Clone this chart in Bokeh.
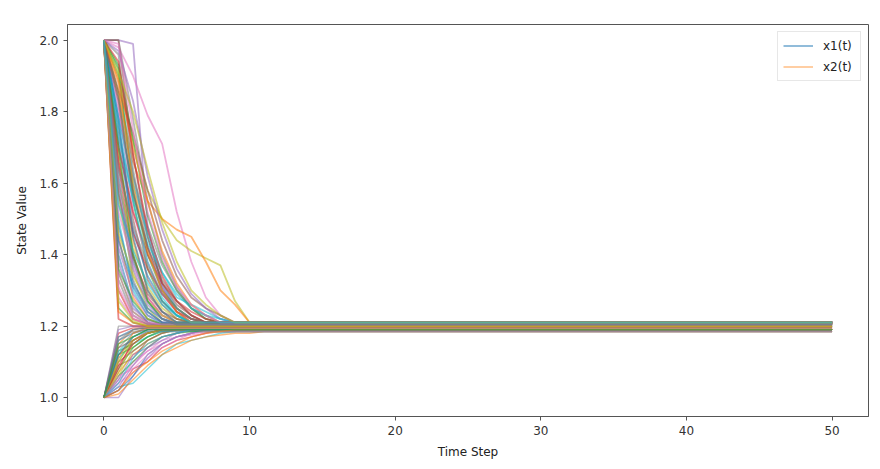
from bokeh.plotting import figure
from bokeh.models import Range1d, FixedTicker, PrintfTickFormatter
from bokeh.embed import file_html
from bokeh.resources import INLINE

# ---- data ----
# state trajectories, value at t = 0, 1, 2, ...; after the last listed step
# the value stays flat until T_END
T_END = 50
x_ticks = [0, 10, 20, 30, 40, 50]
y_ticks = [1.0, 1.2, 1.4, 1.6, 1.8, 2.0]

x1_runs = [
    [2.0, 1.62, 1.38, 1.27, 1.22, 1.21, 1.205],
    [2.0, 1.45, 1.28, 1.22, 1.205],
    [2.0, 1.85, 1.55, 1.36, 1.27, 1.23, 1.21, 1.205],
    [2.0, 1.30, 1.22, 1.205],
    [2.0, 2.0, 1.99, 1.48, 1.31, 1.24, 1.21],
    [2.0, 1.75, 1.50, 1.33, 1.26, 1.22, 1.21],
    [2.0, 1.98, 1.90, 1.79, 1.71, 1.52, 1.38, 1.28, 1.23, 1.21],
    [2.0, 2.0, 1.78, 1.55, 1.40, 1.31, 1.25, 1.22, 1.21],
    [2.0, 1.55, 1.35, 1.25, 1.21, 1.205],
    [2.0, 1.90, 1.62, 1.45, 1.32, 1.25, 1.22, 1.21],
    [2.0, 1.40, 1.26, 1.21, 1.20],
    [2.0, 1.68, 1.44, 1.30, 1.24, 1.21, 1.205],
    [2.0, 1.25, 1.21, 1.20],
    [2.0, 1.22, 1.20],
    [2.0, 1.80, 1.58, 1.42, 1.31, 1.25, 1.22, 1.21],
    [2.0, 1.35, 1.24, 1.21, 1.20],
    [2.0, 1.28, 1.22, 1.205],
    [2.0, 1.58, 1.33, 1.24, 1.21, 1.205],
    [2.0, 1.90, 1.72, 1.58, 1.50, 1.44, 1.41, 1.39, 1.37, 1.27, 1.21, 1.205],
    [2.0, 1.50, 1.30, 1.23, 1.205],
    [2.0, 1.72, 1.47, 1.34, 1.27, 1.23, 1.21],
    [2.0, 1.85, 1.66, 1.55, 1.50, 1.47, 1.45, 1.38, 1.30, 1.26, 1.21, 1.205],
    [2.0, 1.93, 1.72, 1.51, 1.38, 1.30, 1.25, 1.22, 1.21],
    [2.0, 1.65, 1.40, 1.28, 1.23, 1.21],
    [2.0, 1.42, 1.29, 1.23, 1.21],
    [2.0, 2.0, 1.68, 1.45, 1.32, 1.26, 1.23, 1.21],
    [2.0, 1.82, 1.52, 1.38, 1.29, 1.24, 1.22, 1.21],
    [2.0, 1.33, 1.23, 1.205],
    [2.0, 1.60, 1.42, 1.31, 1.25, 1.22, 1.21],
    [2.0, 1.78, 1.60, 1.46, 1.35, 1.28, 1.26, 1.24, 1.22, 1.21],
    [2.0, 1.48, 1.32, 1.25, 1.22, 1.205],
    [2.0, 1.24, 1.21, 1.20],
    [2.0, 1.92, 1.58, 1.40, 1.30, 1.25, 1.22, 1.21],
    [2.0, 1.70, 1.52, 1.40, 1.32, 1.27, 1.24, 1.22, 1.21],
    [2.0, 1.38, 1.25, 1.215, 1.205],
    [2.0, 1.86, 1.74, 1.58, 1.44, 1.34, 1.28, 1.25, 1.23, 1.21],
    [2.0, 1.52, 1.37, 1.28, 1.23, 1.21, 1.205],
    [2.0, 1.96, 1.64, 1.42, 1.30, 1.24, 1.21],
    [2.0, 1.27, 1.215, 1.20],
    [2.0, 1.76, 1.55, 1.38, 1.28, 1.23, 1.21],
    [2.0, 1.44, 1.31, 1.24, 1.21],
    [2.0, 1.89, 1.70, 1.55, 1.41, 1.32, 1.26, 1.23, 1.21],
    [2.0, 1.36, 1.27, 1.22, 1.205],
    [2.0, 1.66, 1.46, 1.36, 1.29, 1.24, 1.22, 1.21],
    [2.0, 1.97, 1.83, 1.62, 1.47, 1.36, 1.29, 1.25, 1.22, 1.21],
    [2.0, 1.57, 1.39, 1.29, 1.24, 1.22, 1.21],
    [2.0, 1.31, 1.23, 1.21, 1.205],
    [2.0, 1.84, 1.62, 1.48, 1.37, 1.30, 1.25, 1.23, 1.21],
    [2.0, 1.46, 1.34, 1.27, 1.23, 1.21],
    [2.0, 1.73, 1.56, 1.43, 1.35, 1.29, 1.25, 1.23, 1.22, 1.21],
    [2.0, 1.78, 1.45, 1.30, 1.24, 1.21],
    [2.0, 1.88, 1.60, 1.41, 1.30, 1.24, 1.21],
    [2.0, 1.70, 1.40, 1.27, 1.22, 1.205],
    [2.0, 1.94, 1.68, 1.47, 1.34, 1.27, 1.23, 1.21],
    [2.0, 1.60, 1.36, 1.26, 1.22, 1.205],
    [2.0, 1.83, 1.57, 1.42, 1.33, 1.27, 1.23, 1.21],
    [2.0, 1.99, 1.75, 1.52, 1.39, 1.31, 1.26, 1.23, 1.21],
    [2.0, 1.64, 1.48, 1.37, 1.29, 1.25, 1.22, 1.21],
    [2.0, 1.91, 1.80, 1.64, 1.49, 1.38, 1.30, 1.26, 1.23, 1.21],
    [2.0, 1.54, 1.41, 1.32, 1.26, 1.23, 1.21],
]

x2_runs = [
    [1.0, 1.15, 1.19, 1.195],
    [1.0, 1.08, 1.14, 1.17, 1.185, 1.19],
    [1.0, 1.18, 1.195],
    [1.0, 1.0, 1.06, 1.11, 1.15, 1.17, 1.18, 1.19],
    [1.0, 1.12, 1.16, 1.18, 1.19],
    [1.0, 1.05, 1.09, 1.13, 1.16, 1.17, 1.18, 1.185, 1.19],
    [1.0, 1.20, 1.20],
    [1.0, 1.10, 1.17, 1.19],
    [1.0, 1.03, 1.04, 1.08, 1.12, 1.15, 1.16, 1.17, 1.18, 1.185, 1.19],
    [1.0, 1.16, 1.18, 1.19],
    [1.0, 1.07, 1.12, 1.15, 1.17, 1.18, 1.19],
    [1.0, 1.13, 1.15, 1.18, 1.19],
    [1.0, 1.02, 1.08, 1.10, 1.14, 1.16, 1.17, 1.18, 1.19],
    [1.0, 1.19, 1.20],
    [1.0, 1.09, 1.11, 1.16, 1.18, 1.19],
    [1.0, 1.04, 1.10, 1.13, 1.15, 1.17, 1.175, 1.18, 1.185],
    [1.0, 1.14, 1.18, 1.195],
    [1.0, 1.06, 1.13, 1.16, 1.18, 1.19],
    [1.0, 1.11, 1.15, 1.17, 1.185, 1.19],
    [1.0, 1.17, 1.19, 1.195],
    [1.0, 1.01, 1.05, 1.09, 1.12, 1.14, 1.16, 1.17, 1.175, 1.18, 1.18, 1.185],
    [1.0, 1.12, 1.14, 1.17, 1.19],
    [1.0, 1.08, 1.16, 1.185],
    [1.0, 1.05, 1.12, 1.14, 1.16, 1.18, 1.19],
    [1.0, 1.10, 1.13, 1.16, 1.18, 1.19],
    [1.0, 1.04, 1.07, 1.11, 1.14, 1.16, 1.18, 1.19],
    [1.0, 1.16, 1.19, 1.20],
    [1.0, 1.07, 1.15, 1.18, 1.19],
    [1.0, 1.13, 1.17, 1.185],
    [1.0, 1.02, 1.06, 1.12, 1.15, 1.17, 1.18, 1.19],
    [1.0, 1.11, 1.18, 1.195],
    [1.0, 1.06, 1.10, 1.14, 1.17, 1.18, 1.185],
    [1.0, 1.09, 1.15, 1.18, 1.19],
    [1.0, 1.03, 1.09, 1.14, 1.17, 1.18, 1.19],
    [1.0, 1.14, 1.16, 1.18, 1.19],
    [1.0, 1.06, 1.08, 1.12, 1.15, 1.17, 1.18, 1.185],
    [1.0, 1.17, 1.185, 1.19],
    [1.0, 1.10, 1.16, 1.18, 1.19],
    [1.0, 1.04, 1.11, 1.15, 1.17, 1.18, 1.19],
    [1.0, 1.12, 1.17, 1.19],
    [1.0, 1.02, 1.07, 1.10, 1.13, 1.15, 1.17, 1.18, 1.185, 1.19],
    [1.0, 1.15, 1.17, 1.19],
]

palette = ['#1f77b4', '#ff7f0e', '#2ca02c', '#d62728', '#9467bd',
           '#8c564b', '#e377c2', '#7f7f7f', '#bcbd22', '#17becf']

FONT = "DejaVu Sans"

p = figure(width=872, height=461,
           x_range=Range1d(-2.5, 52.5), y_range=Range1d(0.947, 2.044),
           output_backend="svg", toolbar_location=None,
           min_border_left=67, min_border_right=4,
           min_border_top=24, min_border_bottom=40)

def path(vals):
    xs = list(range(len(vals))) + [T_END]
    ys = list(vals) + [vals[-1]]
    return xs, ys

n = max(len(x1_runs), len(x2_runs))
for k in range(n):
    if k < len(x1_runs):
        xs, ys = path(x1_runs[k])
        kw = dict(legend_label="x1(t)") if k == 0 else {}
        p.line(xs, ys, line_color=palette[k % 10], line_alpha=0.55,
               line_width=1.8, **kw)
    if k < len(x2_runs):
        xs, ys = path(x2_runs[k])
        kw = dict(legend_label="x2(t)") if k == 0 else {}
        p.line(xs, ys, line_color=palette[(k + 1) % 10], line_alpha=0.55,
               line_width=1.4, **kw)

p.xgrid.visible = False
p.ygrid.visible = False
p.outline_line_color = "#555555"
p.outline_line_width = 1

p.xaxis.ticker = FixedTicker(ticks=x_ticks)
p.yaxis.ticker = FixedTicker(ticks=y_ticks)
p.yaxis.formatter = PrintfTickFormatter(format="%.1f")
p.xaxis.axis_label = "Time Step"
p.yaxis.axis_label = "State Value"

for ax in (p.xaxis, p.yaxis):
    ax.axis_line_color = "#555555"
    ax.major_tick_line_color = "#555555"
    ax.major_tick_in = 0
    ax.major_tick_out = 4
    ax.minor_tick_line_color = None
    ax.major_label_text_font = FONT
    ax.major_label_text_font_size = "12px"
    ax.major_label_text_color = "#333333"
    ax.axis_label_text_font = FONT
    ax.axis_label_text_font_size = "12px"
    ax.axis_label_text_font_style = "normal"
    ax.axis_label_text_color = "#222222"

p.xaxis.major_label_standoff = 5
p.xaxis.axis_label_standoff = 7
p.yaxis.major_label_standoff = 5
p.yaxis.axis_label_standoff = 7

lg = p.legend[0]
lg.location = "top_right"
lg.margin = 7
lg.padding = 5
lg.spacing = 4
lg.glyph_width = 30
lg.glyph_height = 17
lg.label_height = 17
lg.label_width = 32
lg.label_standoff = 10
lg.label_text_font = FONT
lg.label_text_font_size = "12px"
lg.label_text_color = "#222222"
lg.border_line_color = "#d0d0d0"
lg.background_fill_alpha = 0.8

open("out.html", "w").write(file_html(p, INLINE))
